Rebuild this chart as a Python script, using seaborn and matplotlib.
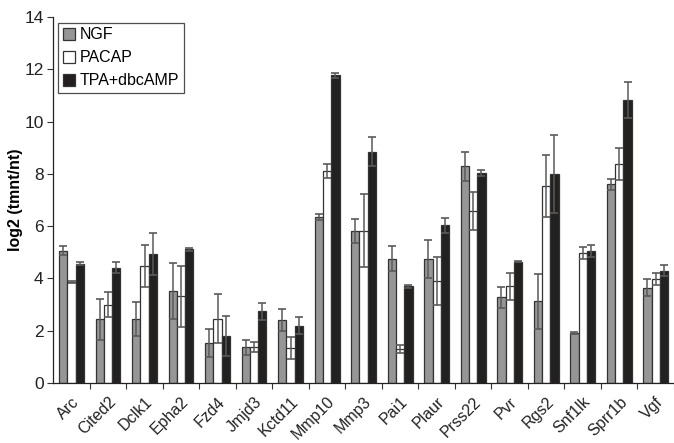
import numpy as np
import pandas as pd
import matplotlib
matplotlib.use("Agg")
import matplotlib.pyplot as plt
import seaborn as sns
from matplotlib.patches import Patch

genes = ["Arc", "Cited2", "Dclk1", "Epha2", "Fzd4", "Jmjd3", "Kctd11", "Mmp10", "Mmp3",
         "Pai1", "Plaur", "Prss22", "Pvr", "Rgs2", "Snf1lk", "Sprr1b", "Vgf"]
treatments = ["NGF", "PACAP", "TPA+dbcAMP"]

ngf = [5.06, 2.43, 2.44, 3.52, 1.54, 1.36, 2.42, 6.35, 5.83, 4.76, 4.74, 8.29, 3.28, 3.13, 1.93, 7.60, 3.65]
ngf_err = [0.17, 0.77, 0.66, 1.07, 0.54, 0.27, 0.42, 0.10, 0.46, 0.48, 0.72, 0.56, 0.41, 1.05, 0.04, 0.22, 0.32]
pacap = [3.86, 2.99, 4.47, 3.32, 2.46, 1.36, 1.34, 8.11, 5.83, 1.29, 3.90, 6.58, 3.70, 7.54, 4.99, 8.37, 3.98]
pacap_err = [0.04, 0.48, 0.81, 1.17, 0.93, 0.19, 0.42, 0.25, 1.40, 0.15, 0.92, 0.74, 0.52, 1.20, 0.23, 0.61, 0.24]
tpa = [4.57, 4.41, 4.93, 5.11, 1.80, 2.74, 2.19, 11.77, 8.85, 3.70, 6.03, 8.04, 4.63, 8.00, 5.05, 10.83, 4.29]
tpa_err = [0.07, 0.20, 0.79, 0.07, 0.77, 0.32, 0.33, 0.09, 0.56, 0.06, 0.28, 0.11, 0.02, 1.48, 0.24, 0.70, 0.21]

y_ticks = [0, 2, 4, 6, 8, 10, 12, 14]
colors = ["#969696", "#ffffff", "#231f20"]

df = pd.DataFrame({
    "gene": genes * 3,
    "treatment": sum([[t] * len(genes) for t in treatments], []),
    "value": ngf + pacap + tpa,
    "err": ngf_err + pacap_err + tpa_err,
})

plt.rcParams["font.family"] = ["Liberation Sans", "DejaVu Sans"]
fig = plt.figure(figsize=(6.74, 4.43), dpi=100)
ax = fig.add_axes([0.079, 0.1354, 0.921, 0.8262])

sns.barplot(data=df, x="gene", y="value", hue="treatment", order=genes,
            hue_order=treatments, palette=colors, width=0.68, gap=0,
            errorbar=None, edgecolor="#333333", linewidth=0.9, ax=ax,
            legend=False)

errs = [ngf_err, pacap_err, tpa_err]
for cont, err in zip(ax.containers, errs):
    xs = [p.get_x() + p.get_width() / 2 for p in cont.patches]
    ys = [p.get_height() for p in cont.patches]
    ax.errorbar(xs, ys, yerr=err, fmt="none", ecolor="#5a5a5a", elinewidth=1.1,
                capsize=2.6, capthick=1.2, zorder=5)

ax.set_ylim(0, 14)
ax.set_xlim(-0.5, len(genes) - 0.5)
ax.set_yticks(y_ticks)
ax.set_yticklabels([str(t) for t in y_ticks], fontsize=12.5, color="#222222")
ax.set_ylabel("log2 (tmnt/nt)", fontsize=11.5, fontweight="bold")
ax.yaxis.set_label_coords(-0.048, 0.5)
ax.set_xlabel("")

ax.set_xticks(np.arange(len(genes)))
ax.set_xticklabels(genes, rotation=45, ha="right", rotation_mode="anchor", fontsize=11.5,
                   color="#222222")
ax.tick_params(axis="x", length=0, pad=8)
ax.set_xticks(np.arange(len(genes)) + 0.5, minor=True)
ax.tick_params(axis="x", which="minor", length=4, width=0.8, color="#333333")
ax.tick_params(axis="y", length=4, width=0.8, color="#333333", pad=3)

for s in ["top", "right"]:
    ax.spines[s].set_visible(False)
for s in ["left", "bottom"]:
    ax.spines[s].set_linewidth(0.9)
    ax.spines[s].set_color("#222222")

handles = [Patch(facecolor=c, edgecolor="#333333", linewidth=0.9) for c in colors]
leg = ax.legend(handles, treatments, loc="upper left", bbox_to_anchor=(0.008, 0.985),
                frameon=True, fancybox=False, fontsize=11.5, handlelength=0.75,
                handleheight=0.75, handletextpad=0.3, borderpad=0.3, labelspacing=0.5,
                borderaxespad=0.0)
leg.get_frame().set_edgecolor("#222222")
leg.get_frame().set_linewidth(0.9)

fig.savefig("out.png", dpi=100)
